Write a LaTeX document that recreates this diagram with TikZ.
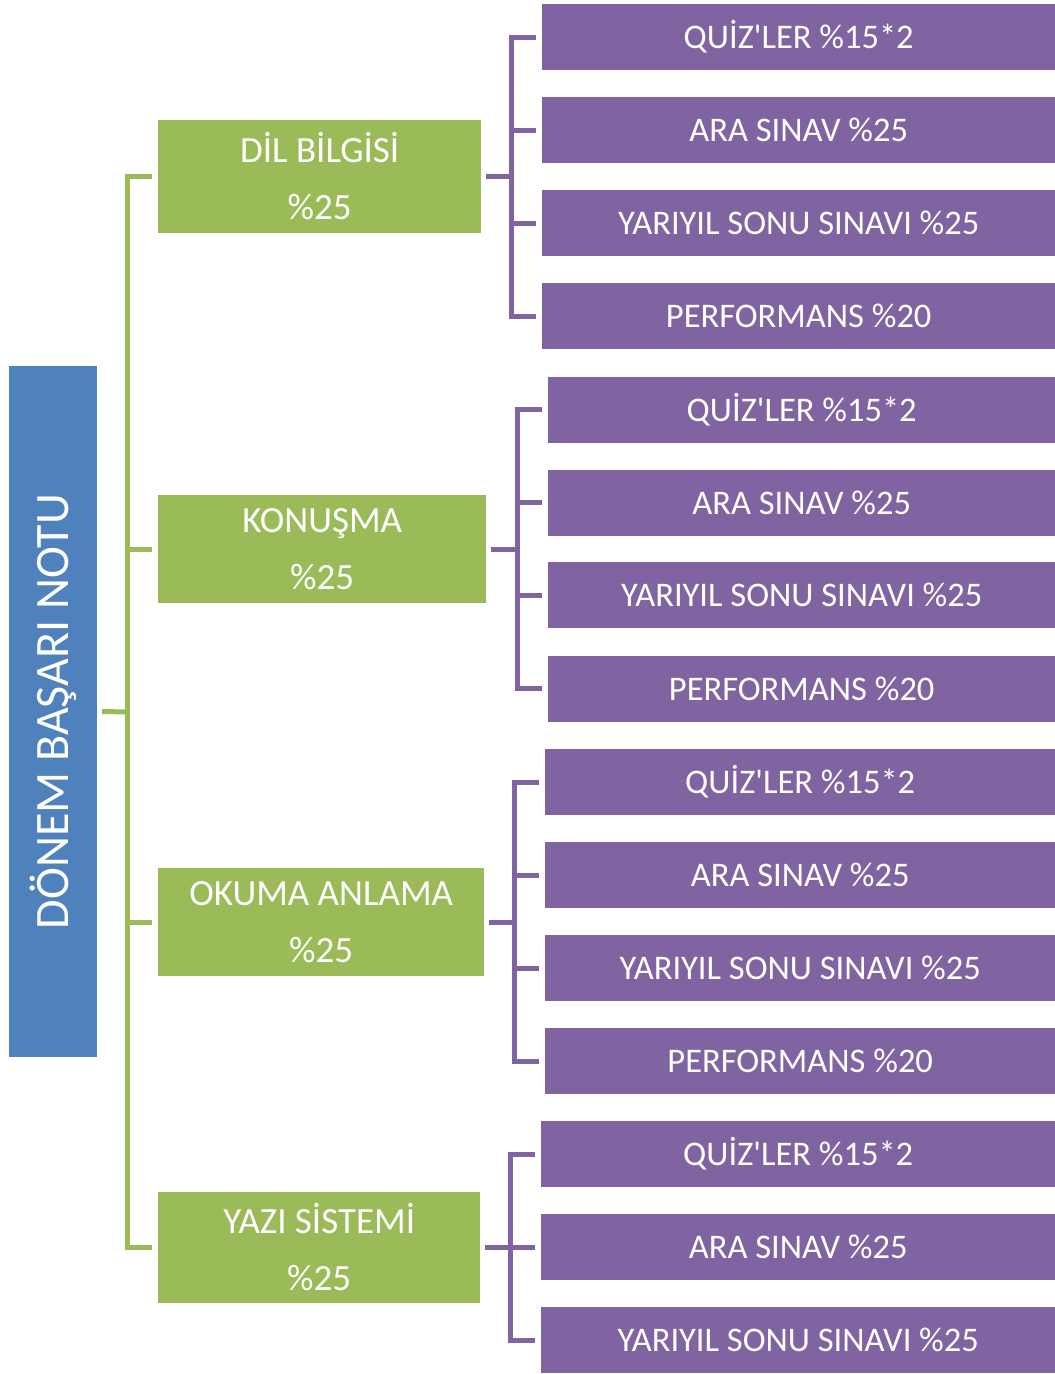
\documentclass[tikz,border=0pt]{standalone}
\usepackage{fontspec}
\setmainfont{Carlito}
\definecolor{barblue}{HTML}{4F81BD}
\definecolor{bargreen}{HTML}{9BBB59}
\definecolor{barpurple}{HTML}{8064A2}
\newcommand{\quiz}{QUİZ\textquotesingle LER \%15*2}
\tikzset{
  mainbox/.style={fill=barblue, text=white, inner sep=0pt, minimum width=88pt, minimum height=691pt},
  subbox/.style={fill=bargreen, text=white, inner sep=0pt, anchor=west, align=center,
    font=\fontsize{37}{57}\selectfont},
  itembox/.style={fill=barpurple, text=white, inner sep=0pt, anchor=west, minimum height=66pt,
    font=\fontsize{34.5}{40}\selectfont},
  gline/.style={draw=bargreen, line width=5pt, line join=miter},
  pline/.style={draw=barpurple, line width=5pt, line join=miter}
}
\begin{document}
\begin{tikzpicture}[x=1pt, y=-1pt]
    \useasboundingbox (0,0) rectangle (1055,1374);

    \node[mainbox] (main) at (53, 711.5) {\rotatebox{90}{\fontsize{48}{50}\selectfont DÖNEM BAŞARI NOTU}};

    \node[subbox, minimum width=323pt, minimum height=113pt] (g1) at (158, 176.5) {DİL BİLGİSİ\\ \%25};
    \node[subbox, minimum width=328pt, minimum height=108pt] (g2) at (158, 549) {KONUŞMA\\ \%25};
    \node[subbox, minimum width=326pt, minimum height=108pt] (g3) at (158, 922) {OKUMA ANLAMA\\ \%25};
    \node[subbox, minimum width=322pt, minimum height=111pt] (g4) at (158, 1247.5) {YAZI SİSTEMİ\\ \%25};

    % dil bilgisi
    \node[itembox, minimum width=513pt] (q1) at (542, 37) {\quiz};
    \node[itembox, minimum width=513pt] (a1) at (542, 130) {ARA SINAV \%25};
    \node[itembox, minimum width=513pt] (y1) at (542, 223) {YARIYIL SONU SINAVI \%25};
    \node[itembox, minimum width=513pt] (p1) at (542, 316) {PERFORMANS \%20};

    % konusma
    \node[itembox, minimum width=507pt] (q2) at (548, 409.5) {\quiz};
    \node[itembox, minimum width=507pt] (a2) at (548, 502.5) {ARA SINAV \%25};
    \node[itembox, minimum width=507pt] (y2) at (548, 595) {YARIYIL SONU SINAVI \%25};
    \node[itembox, minimum width=507pt] (p2) at (548, 688.5) {PERFORMANS \%20};

    % okuma anlama
    \node[itembox, minimum width=510pt] (q3) at (545, 782) {\quiz};
    \node[itembox, minimum width=510pt] (a3) at (545, 875) {ARA SINAV \%25};
    \node[itembox, minimum width=510pt] (y3) at (545, 968) {YARIYIL SONU SINAVI \%25};
    \node[itembox, minimum width=510pt] (p3) at (545, 1061) {PERFORMANS \%20};

    % yazi sistemi
    \node[itembox, minimum width=514pt] (q4) at (541, 1154) {\quiz};
    \node[itembox, minimum width=514pt] (a4) at (541, 1247) {ARA SINAV \%25};
    \node[itembox, minimum width=514pt] (y4) at (541, 1340) {YARIYIL SONU SINAVI \%25};

    % green bracket
    \coordinate (jm) at (127.5, 712);
    \draw[gline] ([xshift=5pt]main.east) -- (jm);
    \draw[gline] ([xshift=-6pt]g1.west) -| (jm) |- ([xshift=-6pt]g4.west);
    \draw[gline] ([xshift=-6pt]g2.west) -- (g2.west -| jm);
    \draw[gline] ([xshift=-6pt]g3.west) -- (g3.west -| jm);

    % purple brackets
    \coordinate (j1) at (511.5, 176.5);
    \draw[pline] ([xshift=5pt]g1.east) -- (j1);
    \draw[pline] ([xshift=-6pt]q1.west) -| (j1) |- ([xshift=-6pt]p1.west);
    \draw[pline] ([xshift=-6pt]a1.west) -- (a1.west -| j1);
    \draw[pline] ([xshift=-6pt]y1.west) -- (y1.west -| j1);

    \coordinate (j2) at (517, 549);
    \draw[pline] ([xshift=5pt]g2.east) -- (j2);
    \draw[pline] ([xshift=-6pt]q2.west) -| (j2) |- ([xshift=-6pt]p2.west);
    \draw[pline] ([xshift=-6pt]a2.west) -- (a2.west -| j2);
    \draw[pline] ([xshift=-6pt]y2.west) -- (y2.west -| j2);

    \coordinate (j3) at (514, 922);
    \draw[pline] ([xshift=5pt]g3.east) -- (j3);
    \draw[pline] ([xshift=-6pt]q3.west) -| (j3) |- ([xshift=-6pt]p3.west);
    \draw[pline] ([xshift=-6pt]a3.west) -- (a3.west -| j3);
    \draw[pline] ([xshift=-6pt]y3.west) -- (y3.west -| j3);

    \coordinate (j4) at (510, 1247.5);
    \draw[pline] ([xshift=5pt]g4.east) -- (j4);
    \draw[pline] ([xshift=-6pt]q4.west) -| (j4) |- ([xshift=-6pt]y4.west);
    \draw[pline] ([xshift=-6pt]a4.west) -- (a4.west -| j4);
\end{tikzpicture}
\end{document}
